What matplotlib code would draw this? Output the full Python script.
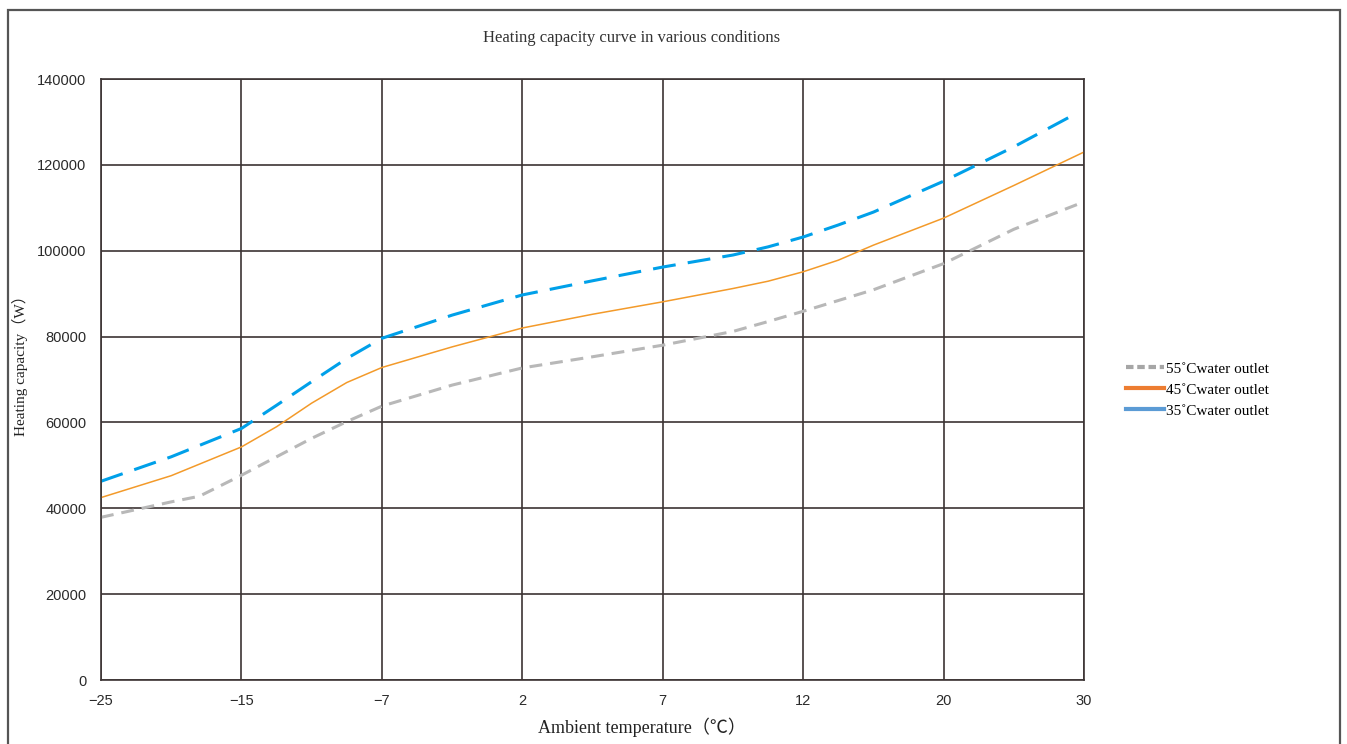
"""
plot.py: Heating capacity curves of the heat pump for three water outlet temperatures.
"""

import matplotlib
matplotlib.use("Agg")
import matplotlib.pyplot as plt
from matplotlib.lines import Line2D
from matplotlib.patches import Rectangle

# Ambient temperature categories (equally spaced on the chart)
temp_labels = ["\u221225", "\u221215", "\u22127", "2", "7", "12", "20", "30"]

# Values (category position, W)
pos_35 = [0, 0.5, 1, 1.25, 1.5, 1.75, 2, 2.5, 3, 3.5, 4, 4.5, 4.75, 5, 5.25, 5.5, 6, 6.5, 6.9]
cap_35 = [46300, 52000, 58600, 64000, 69500, 74900, 79600, 85000, 89700, 93000, 96200, 99000,
          100900, 103200, 106000, 109000, 116200, 124200, 131200]

pos_45 = [0, 0.5, 1, 1.25, 1.5, 1.75, 2, 2.5, 3, 3.5, 4, 4.5, 4.75, 5, 5.25, 5.5, 6, 6.5, 7]
cap_45 = [42500, 47600, 54300, 59000, 64500, 69300, 72800, 77600, 82000, 85200, 88100, 91200,
          92900, 95100, 97800, 101300, 107600, 115200, 123000]

pos_55 = [0, 0.5, 0.7, 1, 1.25, 1.5, 1.75, 2, 2.5, 3, 3.5, 4, 4.5, 4.75, 5, 5.5, 6, 6.5, 7]
cap_55 = [37900, 41500, 42800, 47700, 52000, 56300, 60200, 63800, 68700, 72700, 75300, 78000,
          81200, 83500, 85900, 90900, 97000, 105000, 111400]

y_ticks = [0, 20000, 40000, 60000, 80000, 100000, 120000, 140000]

fig = plt.figure(figsize=(13.47, 7.44), dpi=100)
ax = fig.add_axes([0.075, 0.086, 0.7298, 0.8078])

# Curves
ax.plot(pos_55, cap_55, color="#b8b8b8", lw=2.2, dashes=(4.2, 2.6), solid_capstyle="butt")
ax.plot(pos_45, cap_45, color="#f39a2a", lw=1.1)
ax.plot(pos_35, cap_35, color="#00a0e9", lw=2.2, dashes=(7.5, 4), solid_capstyle="butt")

# Axes ranges and ticks
ax.set_xlim(0, 7)
ax.set_ylim(0, 140000)
ax.set_xticks(range(len(temp_labels)))
ax.set_xticklabels(temp_labels)
ax.set_yticks(y_ticks)
ax.set_yticklabels([str(v) for v in y_ticks])
ax.tick_params(length=0, labelsize=10.5, colors="#2a2a2a")
ax.tick_params(axis="x", pad=10)
ax.tick_params(axis="y", pad=10.5)
for lab in ax.get_xticklabels() + ax.get_yticklabels():
    lab.set_family("Liberation Sans")

# Dark grid lines
ax.grid(True, color="#3c3434", lw=1.2)
ax.set_axisbelow(True)
for sp in ax.spines.values():
    sp.set_color("#3c3434")
    sp.set_linewidth(1.2)

# Texts
serif = ["Liberation Serif", "Noto Sans CJK SC", "DejaVu Sans"]
fig.text(0.469, 0.949, "Heating capacity curve in various conditions",
         ha="center", va="center", fontsize=12, family=serif, color="#333333")
fig.text(0.4762, 0.023, "Ambient temperature\uff08\u2103\uff09",
         ha="center", va="center", fontsize=13, family=serif, color="#222222")
fig.text(0.0148, 0.513, "Heating capacity\uff08W\uff09", rotation=90,
         ha="center", va="center", fontsize=11, family=serif, color="#222222")

# Legend, drawn as it appears in the reference
handles = [
    Line2D([], [], color="#a6a6a6", lw=3, dashes=(1.8, 0.9)),
    Line2D([], [], color="#ed7d31", lw=3),
    Line2D([], [], color="#5b9bd5", lw=3),
]
names = ["55\u02daCwater outlet", "45\u02daCwater outlet", "35\u02daCwater outlet"]
fig.legend(handles, names, loc="center left", bbox_to_anchor=(0.826, 0.476),
           frameon=False, prop={"family": serif, "size": 11},
           handlelength=2.45, handletextpad=0.15, labelspacing=0.47)

# Page border
fig.patches.append(Rectangle((8 / 1347, -0.05), 1332 / 1347, 1.05 - 10 / 744,
                             transform=fig.transFigure, fill=False,
                             edgecolor="#555555", lw=1.6))

fig.savefig("out.png", dpi=100)
